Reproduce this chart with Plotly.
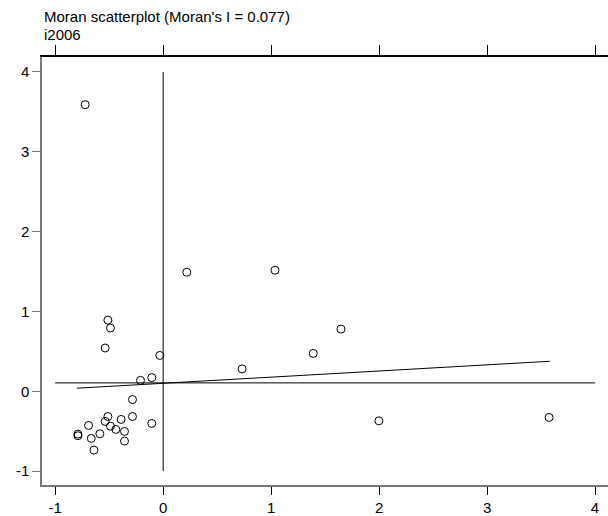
import plotly.graph_objects as go

# Data (standardized variable z and its spatial lag)
z = [-0.722, -0.512, -0.488, -0.537, -0.031, -0.210, -0.105, -0.284, -0.512, -0.537,
     -0.389, -0.284, -0.691, -0.488, -0.438, -0.358, -0.105, -0.789, -0.789, -0.586,
     -0.666, -0.358, -0.641, 0.219, 1.036, 1.647, 1.390, 0.731, 1.998, 3.574]
wz = [3.59, 0.891, 0.792, 0.542, 0.449, 0.137, 0.171, -0.104, -0.316, -0.378,
      -0.353, -0.316, -0.428, -0.437, -0.478, -0.503, -0.403, -0.537, -0.557, -0.532,
      -0.590, -0.624, -0.737, 1.491, 1.516, 0.779, 0.474, 0.280, -0.370, -0.328]

moran_i = 0.077
intercept = 0.10
reg_x = [-0.80, 3.58]
reg_y = [intercept + moran_i * v for v in reg_x]
hline_y = 0.105
x_ticks = [-1, 0, 1, 2, 3, 4]
y_ticks = [-1, 0, 1, 2, 3, 4]
x_labels = ["-1", "0", "1", "2", "3", "4"]
y_labels = ["-1", "0", "1", "2", "3", "4"]

title_line1 = "Moran scatterplot (Moran's I = 0.077)"
title_line2 = "i2006"

FONT = "Liberation Sans, Arial, sans-serif"

fig = go.Figure()
fig.add_trace(go.Scatter(x=z, y=wz, mode="markers",
                         marker=dict(symbol="circle-open", size=8, color="black",
                                     line=dict(width=1, color="black")),
                         showlegend=False, hoverinfo="skip"))
fig.add_trace(go.Scatter(x=reg_x, y=reg_y, mode="lines",
                         line=dict(color="black", width=1), showlegend=False))
fig.add_trace(go.Scatter(x=[min(x_ticks), max(x_ticks)], y=[hline_y, hline_y], mode="lines",
                         line=dict(color="black", width=1), showlegend=False))
fig.add_trace(go.Scatter(x=[0, 0], y=[min(y_ticks), max(y_ticks)], mode="lines",
                         line=dict(color="black", width=1), showlegend=False))
# invisible trace for top axis
fig.add_trace(go.Scatter(x=[0], y=[0], xaxis="x2", mode="markers",
                         marker=dict(opacity=0), showlegend=False, hoverinfo="skip"))

xr = [-1.122, 4.12]
fig.update_layout(
    width=608, height=516,
    margin=dict(l=42, r=0, t=57, b=29, pad=0),
    paper_bgcolor="white", plot_bgcolor="white",
    font=dict(family=FONT, size=15, color="black"),
    xaxis=dict(range=xr, tickvals=x_ticks, ticktext=x_labels, showgrid=False, zeroline=False,
               showline=True, linecolor="#777777", linewidth=1.5,
               ticks="outside", ticklen=8, tickcolor="black", tickwidth=1.2,
               tickfont=dict(size=15, family=FONT)),
    xaxis2=dict(range=xr, tickvals=x_ticks, overlaying="x", side="top",
                showgrid=False, zeroline=False, showticklabels=False,
                showline=True, linecolor="black", linewidth=1.5,
                ticks="outside", ticklen=10, tickcolor="black", tickwidth=1.2),
    yaxis=dict(range=[-1.174, 4.187], tickvals=y_ticks, ticktext=y_labels, showgrid=False,
               zeroline=False, showline=True, linecolor="#777777", linewidth=1.5,
               ticks="outside", ticklen=8, tickcolor="#777777", tickwidth=1.2,
               tickfont=dict(size=15, family=FONT)),
    annotations=[
        dict(text=title_line1, xref="paper", yref="paper", x=0.0, y=1.0,
             xanchor="left", yanchor="bottom", yshift=30, showarrow=False,
             font=dict(size=15, family=FONT)),
        dict(text=title_line2, xref="paper", yref="paper", x=0.0, y=1.0,
             xanchor="left", yanchor="bottom", yshift=12, showarrow=False,
             font=dict(size=15, family=FONT)),
    ],
)
fig.write_html("out.html")
